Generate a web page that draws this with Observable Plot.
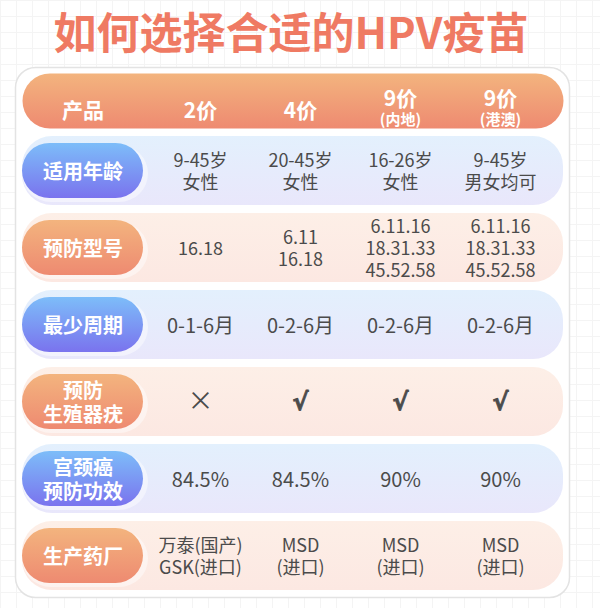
<!DOCTYPE html>
<html>
<head>
<meta charset="utf-8">
<script src="https://cdn.jsdelivr.net/npm/d3@7"></script>
<script src="https://cdn.jsdelivr.net/npm/@observablehq/plot@0.6"></script>
<style>
  html, body { margin: 0; padding: 0; }
  body {
    width: 600px; height: 608px; overflow: hidden;
    background-color: #ffffff;
    background-image: linear-gradient(#f4f4f4 1px, transparent 1px), linear-gradient(90deg, #f4f4f4 1px, transparent 1px);
    background-size: 16px 16px;
    font-family: "Noto Sans CJK SC", "Noto Sans", sans-serif;
  }
  #title {
    box-sizing: border-box; width: 600px;
    height: 60px; line-height: 60px; text-align: center; padding-right: 18px;
    font-size: 43px; font-weight: 700; color: #ef7a63;
  }
</style>
</head>
<body>
<div id="title">如何选择合适的HPV疫苗</div>
<div id="chart"></div>
<script>
// ---------- data ----------
const products = ["2价", "4价", "9价(内地)", "9价(港澳)"];
const headerMain = ["2价", "4价", "9价", "9价"];
const headerSub = ["", "", "(内地)", "(港澳)"];
const headerLabel = "产品";

const rowKeys = ["适用年龄", "预防型号", "最少周期", "预防生殖器疣", "宫颈癌预防功效", "生产药厂"];
const rowLabels = ["适用年龄", "预防型号", "最少周期", "预防\n生殖器疣", "宫颈癌\n预防功效", "生产药厂"];

const ageRange = ["9-45岁\n女性", "20-45岁\n女性", "16-26岁\n女性", "9-45岁\n男女均可"];
const hpvTypes = ["16.18", "6.11\n16.18", "6.11.16\n18.31.33\n45.52.58", "6.11.16\n18.31.33\n45.52.58"];
const schedule = ["0-1-6月", "0-2-6月", "0-2-6月", "0-2-6月"];
const warts = ["×", "√", "√", "√"];
const efficacy = ["84.5%", "84.5%", "90%", "90%"];
const maker = ["万泰(国产)\nGSK(进口)", "MSD\n(进口)", "MSD\n(进口)", "MSD\n(进口)"];

const rowValues = [ageRange, hpvTypes, schedule, warts, efficacy, maker];

// ---------- styles ----------
const rowFontSize = {"适用年龄": 18, "预防型号": 18, "最少周期": 20, "预防生殖器疣": 22, "宫颈癌预防功效": 20, "生产药厂": 18};
const symbolRow = "预防生殖器疣";

const cells = rowKeys.flatMap((r, ri) => products.map((p, pi) => ({row: r, product: p, value: rowValues[ri][pi]})));
const blueRows = rowKeys.filter((_, i) => i % 2 === 0);
const orangeRows = rowKeys.filter((_, i) => i % 2 === 1);
const headers = products.map((p, i) => ({product: p, main: headerMain[i], sub: headerSub[i]}));

const W = 600, H = 548;
const textColor = "#4b4b4b";

const chart = Plot.plot({
  width: W,
  height: H,
  margin: 0,
  style: {background: "transparent", fontFamily: "'Noto Sans CJK SC', 'Noto Sans', sans-serif", overflow: "visible"},
  x: {type: "band", domain: products, range: [149, 550], padding: 0, axis: null},
  y: {type: "band", domain: rowKeys, range: [71.5, 533.5], paddingInner: 0.104, paddingOuter: 0.052, axis: null},
  marks: [
    // card
    Plot.frame({fill: "white", stroke: "#e3e3e3", strokeWidth: 1.5, rx: 20,
      insetLeft: 15, insetRight: 31, insetTop: 7, insetBottom: 11}),
    // header pill
    Plot.frame({fill: "url(#gOrange)", stroke: "none", rx: 27.5,
      insetLeft: 22, insetRight: 37, insetTop: 13, insetBottom: 480}),
    // row bands
    Plot.cell(blueRows, {y: d => d, fill: "url(#gBlueBand)", rx: 30, insetLeft: 22, insetRight: 37}),
    Plot.cell(orangeRows, {y: d => d, fill: "url(#gOrangeBand)", rx: 30, insetLeft: 22, insetRight: 37}),
    // soft highlight under label pills
    Plot.cell(rowKeys, {y: d => d, fill: "white", fillOpacity: 0.45, rx: 29, insetLeft: 22, insetRight: 452, insetTop: 9, insetBottom: 3}),
    // label pills
    Plot.cell(blueRows, {y: d => d, fill: "url(#gBlue)", rx: 27.5, insetLeft: 22, insetRight: 457, insetTop: 7, insetBottom: 7}),
    Plot.cell(orangeRows, {y: d => d, fill: "url(#gOrange)", rx: 27.5, insetLeft: 22, insetRight: 457, insetTop: 7, insetBottom: 7}),
    // header texts
    Plot.text([headerLabel], {text: d => d, frameAnchor: "top-left", dx: 82.5, dy: 43, textAnchor: "middle",
      fill: "white", fontSize: 21, fontWeight: 700}),
    Plot.text(headers.filter(d => !d.sub), {x: "product", text: "main", frameAnchor: "top", dy: 43,
      fill: "white", fontSize: 21, fontWeight: 700}),
    Plot.text(headers.filter(d => d.sub), {x: "product", text: "main", frameAnchor: "top", dy: 31,
      fill: "white", fontSize: 21, fontWeight: 700}),
    Plot.text(headers.filter(d => d.sub), {x: "product", text: "sub", frameAnchor: "top", dy: 54,
      fill: "white", fontSize: 15, fontWeight: 700}),
    // row labels
    Plot.text(rowKeys, {y: d => d, text: (d, i) => rowLabels[i], frameAnchor: "left", dx: 82.5, textAnchor: "middle",
      fill: "white", fontSize: 20, fontWeight: 700, lineHeight: 1.2}),
    // cell values
    Plot.text(cells.filter(d => d.row !== symbolRow), {x: "product", y: "row", text: "value", fill: textColor,
      fontSize: d => rowFontSize[d.row], lineHeight: 1.2}),
    // symbol row: cross
    Plot.text(cells.filter(d => d.row === symbolRow && d.value === "×"), {x: "product", y: "row", text: "value", fill: textColor,
      fontSize: 26, fontWeight: 400}),
    // symbol row: checks
    Plot.text(cells.filter(d => d.row === symbolRow && d.value !== "×"), {x: "product", y: "row", text: "value", fill: textColor,
      fontSize: 24, fontWeight: 700, fontFamily: "DejaVu Sans", stroke: textColor, strokeWidth: 0.8})
  ]
});

const defs = `
<defs>
  <linearGradient id="gOrange" x1="0" y1="0" x2="0" y2="1">
    <stop offset="0" stop-color="#f3b47e"/>
    <stop offset="1" stop-color="#ee8a71"/>
  </linearGradient>
  <linearGradient id="gBlue" x1="0" y1="0" x2="0" y2="1">
    <stop offset="0" stop-color="#7dbdf9"/>
    <stop offset="1" stop-color="#7a73ee"/>
  </linearGradient>
  <linearGradient id="gBlueBand" x1="0" y1="0" x2="0" y2="1">
    <stop offset="0" stop-color="#e3f0fd"/>
    <stop offset="1" stop-color="#e9e7fb"/>
  </linearGradient>
  <linearGradient id="gOrangeBand" x1="0" y1="0" x2="0" y2="1">
    <stop offset="0" stop-color="#fdefe7"/>
    <stop offset="1" stop-color="#fce8e2"/>
  </linearGradient>
</defs>`;
chart.insertAdjacentHTML("afterbegin", defs);
document.getElementById("chart").appendChild(chart);
</script>
</body>
</html>
